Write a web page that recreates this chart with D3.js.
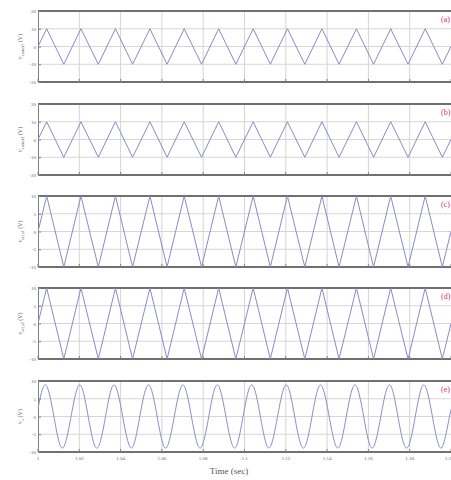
<!DOCTYPE html>
<html><head><meta charset="utf-8">
<script src="https://cdn.jsdelivr.net/npm/d3@7"></script>
<style>body{margin:0;background:#fff}svg{display:block}</style>
</head><body>
<script>
// ---- data ----
const xTicks = [1, 1.02, 1.04, 1.06, 1.08, 1.1, 1.12, 1.14, 1.16, 1.18, 1.2];
const xTickLabels = ["1","1.02","1.04","1.06","1.08","1.1","1.12","1.14","1.16","1.18","1.2"];
const panelLetters = ["(a)","(b)","(c)","(d)","(e)"];
const panelYLabels = [["v","carrier1"," (V)"],["v","carrier2"," (V)"],["v","ref,a1"," (V)"],["v","ref,a2"," (V)"],["v","o"," (V)"]];
const yTicksAB = [20, 10, 0, -10, -20];
const yTicksCDE = [10, 5, 0, -5, -10];
// triangle vertices (time, s)
const triPeakTimes = [1.0042,1.0208,1.0375,1.0542,1.0708,1.0875,1.1042,1.1208,1.1375,1.1542,1.1708,1.1875];
const triTroughTimes = [1.0125,1.0292,1.0458,1.0625,1.0792,1.0958,1.1125,1.1292,1.1458,1.1625,1.1792,1.1958];
const triZeroTimes = [1.0, 1.2];
const triAmplitudes = [10, 10, 10, 10]; // panels a,b,c,d
// sine key points
const sinePeakTimes = [1.0035,1.0202,1.0368,1.0535,1.0702,1.0868,1.1035,1.1202,1.1368,1.1535,1.1702,1.1868,1.2035];
const sineTroughTimes = [1.0118,1.0285,1.0452,1.0618,1.0785,1.0952,1.1118,1.1285,1.1452,1.1618,1.1785,1.1952];
const sineZeroTimes = [0.9993,1.0077,1.0160,1.0243,1.0327,1.0410,1.0493,1.0577,1.0660,1.0743,1.0827,1.0910,1.0993,1.1077,1.1160,1.1243,1.1327,1.1410,1.1493,1.1577,1.1660,1.1743,1.1827,1.1910,1.1993];
const sineAmplitude = 8.9;

// ---- layout ----
const W = 451, H = 480;
const left = 38, right = 451;
const panelTops = [11, 104, 196, 288, 381];
const panelH = 71;
const svg = d3.select("body").append("svg").attr("width", W).attr("height", H);
const x = d3.scaleLinear().domain([1, 1.2]).range([left, right]);

svg.append("defs").append("clipPath").attr("id","clip")
  .append("rect").attr("x", left).attr("y", 0).attr("width", right-left).attr("height", H);

function triPoints(a) {
  const pts = [];
  triZeroTimes.forEach(t => pts.push([t, 0]));
  triPeakTimes.forEach(t => pts.push([t, a]));
  triTroughTimes.forEach(t => pts.push([t, -a]));
  return pts.sort((p, q) => p[0] - q[0]);
}
function sinePoints() {
  const pts = [];
  sineZeroTimes.forEach(t => pts.push([t, 0]));
  sinePeakTimes.forEach(t => pts.push([t, sineAmplitude]));
  sineTroughTimes.forEach(t => pts.push([t, -sineAmplitude]));
  return pts.sort((p, q) => p[0] - q[0]);
}

panelTops.forEach((top, i) => {
  const ticks = i < 2 ? yTicksAB : yTicksCDE;
  const y = d3.scaleLinear().domain([ticks[4], ticks[0]]).range([top + panelH, top]);
  const g = svg.append("g");
  // vertical grid
  g.selectAll(".vg").data(xTicks.slice(1, -1)).enter().append("line")
    .attr("x1", d => x(d)).attr("x2", d => x(d))
    .attr("y1", top).attr("y2", top + panelH)
    .attr("stroke", "#d4d4d4").attr("stroke-width", 1);
  // horizontal grid
  g.selectAll(".hg").data(ticks.slice(1, -1)).enter().append("line")
    .attr("x1", left).attr("x2", right)
    .attr("y1", d => y(d)).attr("y2", d => y(d))
    .attr("stroke", "#d6d6d6").attr("stroke-width", 1);
  // borders top/bottom
  [ticks[0], ticks[4]].forEach(v => {
    g.append("line").attr("x1", left).attr("x2", right)
      .attr("y1", y(v)).attr("y2", y(v))
      .attr("stroke", "#707070").attr("stroke-width", 1.8);
  });
  // left axis
  const ax = d3.axisLeft(y).tickValues(ticks).tickSize(-3).tickPadding(2)
    .tickFormat(d => String(d));
  const axg = g.append("g").attr("transform", `translate(${left},0)`).call(ax);
  axg.select(".domain").attr("stroke", "#808080").attr("stroke-width", 1);
  axg.selectAll(".tick line").attr("stroke", "#808080");
  axg.selectAll("text").attr("font-family", "Liberation Serif, serif")
    .attr("font-size", 5).attr("fill", "#666");
  // x ticks on bottom border (inner)
  g.selectAll(".xt").data(xTicks).enter().append("line")
    .attr("x1", d => x(d)).attr("x2", d => x(d))
    .attr("y1", top + panelH).attr("y2", top + panelH - 3)
    .attr("stroke", "#808080");
  // waveform
  const pts = i < 4 ? triPoints(triAmplitudes[i]) : sinePoints();
  const line = d3.line().x(d => x(d[0])).y(d => y(d[1]))
    .curve(i < 4 ? d3.curveLinear : d3.curveNatural);
  g.append("path").attr("d", line(pts)).attr("clip-path", "url(#clip)")
    .attr("fill", "none").attr("stroke", "#8a8ac6").attr("stroke-width", 1);
  // panel letter
  g.append("text").attr("x", 441).attr("y", top + 11)
    .attr("font-family", "Liberation Serif, serif").attr("font-size", 8)
    .attr("fill", "#e0304a").text(panelLetters[i]);
  // y label
  const lab = g.append("text")
    .attr("transform", `translate(22,${top + panelH / 2}) rotate(-90)`)
    .attr("text-anchor", "middle")
    .attr("font-family", "Liberation Serif, serif").attr("font-size", 6).attr("fill", "#555");
  lab.append("tspan").text(panelYLabels[i][0]);
  lab.append("tspan").attr("font-size", 4).attr("dy", 1.5).text(panelYLabels[i][1]);
  lab.append("tspan").attr("dy", -1.5).text(panelYLabels[i][2]);
});

// x tick labels
svg.selectAll(".xl").data(xTicks).enter().append("text")
  .attr("x", d => x(d)).attr("y", 460)
  .attr("text-anchor", (d, i) => i === xTicks.length - 1 ? "end" : "middle")
  .attr("font-family", "Liberation Serif, serif").attr("font-size", 5).attr("fill", "#666")
  .text((d, i) => xTickLabels[i]);
svg.append("text").attr("x", 229).attr("y", 474).attr("text-anchor", "middle")
  .attr("font-family", "Liberation Serif, serif").attr("font-size", 9).attr("fill", "#555")
  .text("Time (sec)");
</script>
</body></html>
